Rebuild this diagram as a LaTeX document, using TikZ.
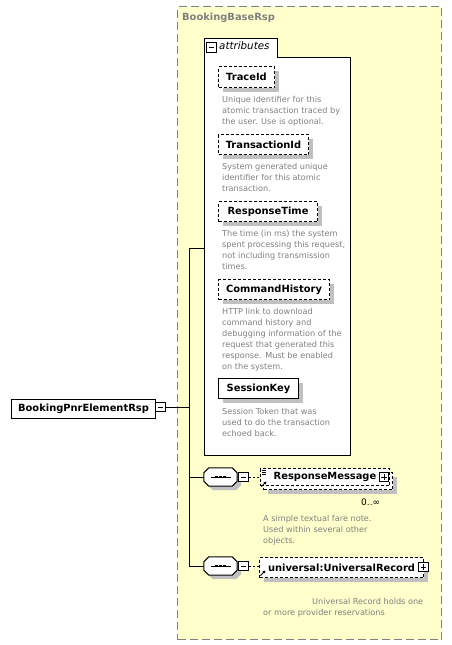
\documentclass[tikz,border=0pt]{standalone}
\usepackage{fontspec}
\setmainfont{DejaVu Sans}
\usetikzlibrary{calc,shadows,arrows.meta}
\pgfdeclarelayer{background}
\pgfsetlayers{background,main}
\definecolor{ybg}{HTML}{FFFFCC}
\definecolor{bordergray}{HTML}{808080}
\definecolor{txtgray}{HTML}{808080}
\definecolor{shd}{HTML}{C0C0C0}
\tikzset{
  elem/.style={draw, line width=1pt, fill=white, inner sep=0pt, anchor=north west,
    font=\bfseries\fontsize{9.9}{12}\selectfont},
  optelem/.style={elem, dash pattern=on 3pt off 2pt},
  shdw/.style={drop shadow={shadow xshift=4pt, shadow yshift=-4pt, fill=shd, opacity=1}},
  desc/.style={anchor=base west, inner sep=0pt, text=txtgray, font=\fontsize{8.15}{11}\selectfont},
  iconbox/.style={draw, line width=1pt, fill=white, minimum size=9.5pt, inner sep=0pt},
  minusicon/.style={iconbox, path picture={
    \draw[line width=1pt] ([xshift=2pt]path picture bounding box.west) -- ([xshift=-2pt]path picture bounding box.east);}},
  plusicon/.style={iconbox, path picture={
    \draw[line width=1pt] ([xshift=2pt]path picture bounding box.west) -- ([xshift=-2pt]path picture bounding box.east);
    \draw[line width=1pt] ([yshift=-2pt]path picture bounding box.north) -- ([yshift=2pt]path picture bounding box.south);}},
  seqnode/.style={minimum width=33pt, minimum height=18pt, inner sep=0pt},
  conn/.style={line width=1pt},
}
\newcommand\desclines[4]{%
  \foreach \dl [count=\i from 0] in {#4} {
    \node[desc, name=#1\i] at (#2, #3+11*\i) {\dl};
  }%
}
\newcommand\octpath[1]{($(#1.north west)+(5,0)$) -- ($(#1.north east)+(-5,0)$) -- ($(#1.north east)+(0,5)$) -- ($(#1.south east)+(0,-5)$) -- ($(#1.south east)+(-5,0)$) -- ($(#1.south west)+(5,0)$) -- ($(#1.south west)+(0,-5)$) -- ($(#1.north west)+(0,5)$) -- cycle}
\newcommand\seqoct[1]{%
  \fill[shd, transform canvas={shift={(4pt,-4pt)}}] \octpath{#1};
  \draw[fill=white, line width=1pt] \octpath{#1};
  \draw[line width=1pt] ($(#1.center)+(-10,0)$) -- ($(#1.center)+(10,0)$);
  \foreach \dx in {-4,0,4} {\fill ($(#1.center)+(\dx,0)+(-1.4,-1.4)$) rectangle ($(#1.center)+(\dx,0)+(1.4,1.4)$);}
}
\begin{document}
\begin{tikzpicture}[x=1pt,y=-1pt]
\useasboundingbox (0,0) rectangle (452,645);
\fill[white] (0,0) rectangle (452,645);

% base type area
\node[draw=bordergray, fill=ybg, line width=1.3pt, dash pattern=on 8pt off 4pt,
  minimum width=264pt, minimum height=633pt, anchor=north west, inner sep=0pt] (base) at (177,6) {};
\node[anchor=base west, inner sep=0pt, text=txtgray, font=\bfseries\fontsize{9.9}{12}\selectfont] (basetitle) at (182,20.5) {BookingBaseRsp};

% attributes box
\node[inner sep=0pt, minimum width=146pt, minimum height=398pt, anchor=north west, fill=white] (attrs) at (204,57) {};
\draw[line width=1pt, fill=white] (attrs.south west) -- ($(attrs.north west)+(0,-19)$) -- ($(attrs.north west)+(73,-19)$) -- ($(attrs.north west)+(73,0)$) -- (attrs.north east) -- (attrs.south east) -- cycle;
\node[minusicon] (attrminus) at (211.5,47.5) {};
\node[anchor=base west, inner sep=0pt, font=\itshape\fontsize{10.3}{12}\selectfont] (attrlabel) at (219,49) {attributes};

\node[optelem, shdw, minimum width=56pt, minimum height=21pt] (traceid) at (218,66) {TraceId};
\desclines{dtrace}{222}{102}{Unique identifier for this, atomic transaction traced by, the user. Use is optional.}
\node[optelem, shdw, minimum width=90pt, minimum height=20pt] (transid) at (218,134) {TransactionId};
\desclines{dtrans}{222}{169}{System generated unique, identifier for this atomic, transaction.}
\node[optelem, shdw, minimum width=99pt, minimum height=20pt] (resptime) at (218,201) {ResponseTime};
\desclines{dresp}{222}{236}{The time (in ms) the system, {spent processing this request,}, not including transmission, times.}
\node[optelem, shdw, minimum width=111pt, minimum height=20pt] (cmdhist) at (218,279) {CommandHistory};
\desclines{dcmd}{222}{314}{HTTP link to download, command history and, debugging information of the, request that generated this, response. Must be enabled, on the system.}
\node[elem, shdw, minimum width=80pt, minimum height=20pt] (sesskey) at (218,378) {SessionKey};
\desclines{dsess}{222}{414}{Session Token that was, used to do the transaction, echoed back.}

% main element
\node[elem, minimum width=144pt, minimum height=19pt] (main) at (11,399) {BookingPnrElementRsp};
\node[minusicon] (mminus) at (160.5,407) {};
\begin{pgfonlayer}{background}
\fill[shd] ($(main.north west)+(4,4)$) rectangle ($(mminus.east |- main.south)+(0,4)$);
\end{pgfonlayer}

% spine
\coordinate (jA) at (189,248);
\node[seqnode] (seq1) at (220.5,477) {};
\node[seqnode] (seq2) at (220.5,566) {};
\draw[conn] (attrs.west |- jA) -- (jA) -- (jA |- seq2.west) -- (seq2.west);
\draw[conn] (mminus.east) -- (mminus.east -| jA);
\draw[conn] (jA |- seq1.west) -- (seq1.west);

% sequence 1
\seqoct{seq1}
\node[minusicon] (seq1m) at (243.5,477) {};
\node[optelem, shdw, minimum width=129pt, minimum height=17pt] (rmback) at (263,472) {};
\node[optelem, minimum width=129pt, minimum height=17pt] (rm) at (260,468) {ResponseMessage\hspace{7pt}};
\draw[dash pattern=on 2pt off 2pt, line width=1pt] (seq1m.east) -- (seq1m.east -| rm.west);
\node[plusicon] (rmplus) at (384,477) {};
\foreach \yy in {470,472,474} {\draw[line width=0.7pt] (261.5,\yy) -- (266,\yy);}
\draw[line width=0.9pt, -{Stealth[length=3pt,width=3pt]}] (261.5,486.5) -- (266.5,481.5);
\node[anchor=base west, inner sep=0pt, font=\fontsize{9}{11}\selectfont] (rmmult) at (361,505.5) {0..∞};
\desclines{drm}{263}{521}{A simple textual fare note., Used within several other, objects.}

% sequence 2
\seqoct{seq2}
\node[minusicon] (seq2m) at (243.5,566) {};
\node[optelem, shdw, minimum width=164pt, minimum height=20pt] (ur) at (259,557) {universal:UniversalRecord\hspace{10pt}};
\draw[dash pattern=on 2pt off 2pt, line width=1pt] (seq2m.east) -- (seq2m.east -| ur.west);
\node[plusicon] (urplus) at (423.5,567) {};
\draw[line width=0.9pt, -{Stealth[length=3pt,width=3pt]}] (260.5,575.5) -- (265.5,570.5);
\node[desc] (dur0) at (312,604) {Universal Record holds one};
\node[desc] (dur1) at (263,615) {or more provider reservations};
\end{tikzpicture}
\end{document}
